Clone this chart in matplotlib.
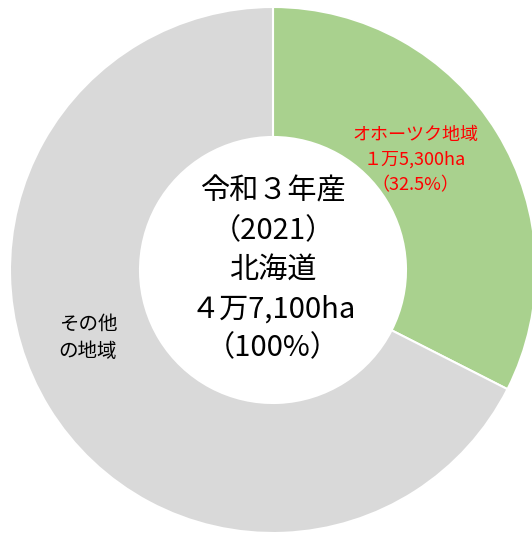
import matplotlib
matplotlib.use("Agg")
import matplotlib.pyplot as plt

plt.rcParams['font.family'] = ['Noto Sans CJK JP', 'DejaVu Sans']

# area by region, Hokkaido, 2021 (ha)
regions = ["オホーツク地域", "その他の地域"]
areas = [15300, 31800]
colors = ["#A9D18E", "#D9D9D9"]

total_label = "令和３年産\n（2021）\n北海道\n４万7,100ha\n（100%）"
okhotsk_label = "オホーツク地域\n１万5,300ha\n（32.5%）"
other_label = "その他\nの地域"

W, H = 532, 536
fig = plt.figure(figsize=(W / 100, H / 100), dpi=100)
ax = fig.add_axes([0, 0, 1, 1])

cx, cy = 273, H - 270
ax.pie(areas, colors=colors, startangle=90, counterclock=False,
       radius=263, center=(cx, cy),
       wedgeprops=dict(width=130, edgecolor="white", linewidth=1.5))

ax.set_xlim(0, W)
ax.set_ylim(0, H)
ax.set_aspect("equal")
ax.axis("off")

ax.text(cx, cy, total_label, ha="center", va="center", fontsize=21,
        linespacing=1.4, color="black")
ax.text(415, H - 160, okhotsk_label, ha="center", va="center", fontsize=13,
        linespacing=1.5, color="#FF0000")
ax.text(88, H - 338, other_label, ha="center", va="center", fontsize=14,
        linespacing=1.35, color="black")

fig.savefig("out.png", dpi=100)
